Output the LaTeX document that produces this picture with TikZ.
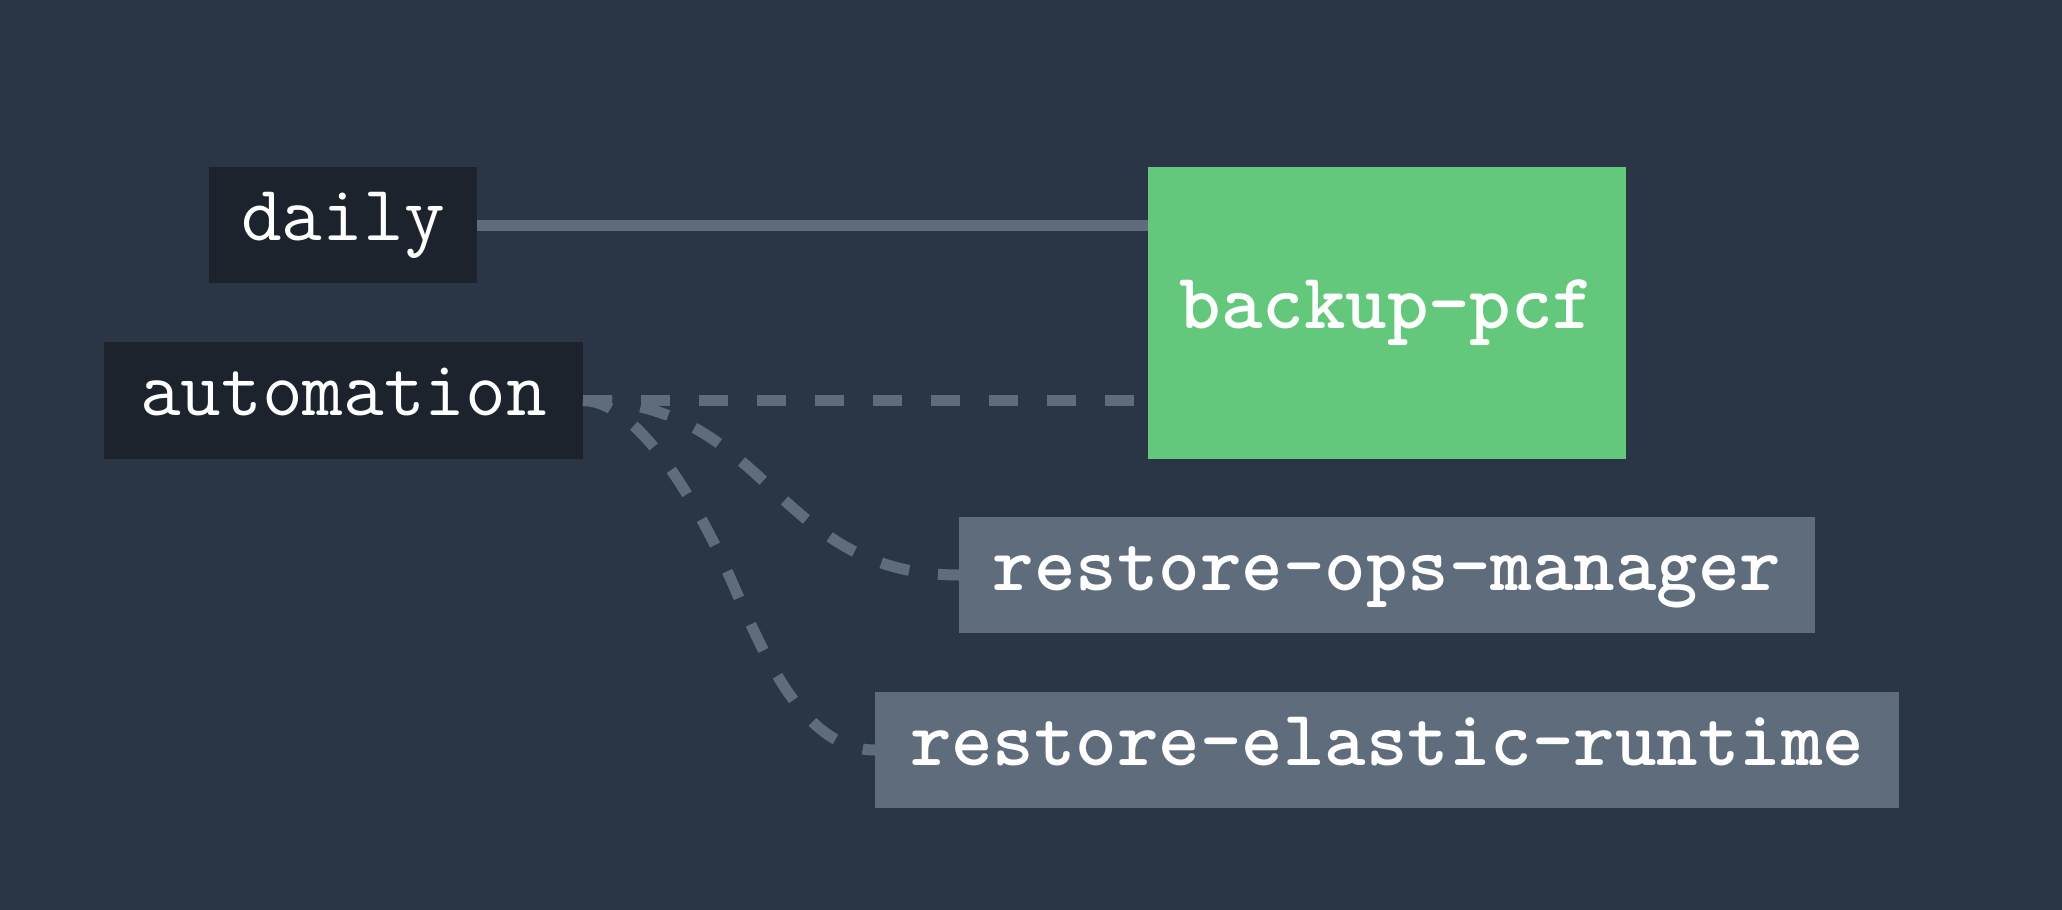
\documentclass[tikz,border=0pt]{standalone}
\definecolor{bgslate}{HTML}{2A3645}
\definecolor{nodedark}{HTML}{1C232D}
\definecolor{nodegreen}{HTML}{63C87C}
\definecolor{nodegrey}{HTML}{5E6C7C}
\definecolor{linkgrey}{HTML}{5E6C7C}
\newcommand\jobfont{\ttfamily\fontsize{39.5}{44}\selectfont}
\tikzset{
  job/.style = {rectangle, inner sep=0pt, outer sep=0pt, text=white,
                font=\jobfont, text height=23.7pt, text depth=8.7pt,
                minimum width=#1},
  job/.default = 100pt,
  link/.style = {draw=linkgrey, line width=5.5pt},
  dashlink/.style = {link, dash pattern=on 14.5pt off 14.5pt}
}
\begin{document}
\begin{tikzpicture}[x=0.5pt, y=-0.5pt]
	\fill[bgslate] (0,0) rectangle (2062,910);

	% Resources
	\node[job=134pt, minimum height=58pt, fill=nodedark] (daily) at (343,225) {daily};
	\node[job=239.5pt, minimum height=58.5pt, fill=nodedark] (automation) at (343.5,400.5) {automation};

	% Jobs
	\node[job=239pt, minimum height=146pt, fill=nodegreen] (backup) at (1387,313) {\bfseries backup-pcf};
	\node[job=428pt, minimum height=58pt, fill=nodegrey] (opsmgr) at (1387,575) {\bfseries restore-ops-manager};
	\node[job=512pt, minimum height=58pt, fill=nodegrey] (elastic) at (1387,750) {\bfseries restore-elastic-runtime};

	% Links
	\draw[link] (daily.east) -- (daily.east -| backup.west);
	\draw[dashlink] (automation.east) -- (automation.east -| backup.west);
	\draw[dashlink] (automation.east) .. controls (771,401) and (771,575) .. (opsmgr.west);
	\draw[dashlink] (automation.east) .. controls (630,401) and (680,475) .. (715,545)
		.. controls (750,615) and (790,750) .. (elastic.west);
\end{tikzpicture}
\end{document}
